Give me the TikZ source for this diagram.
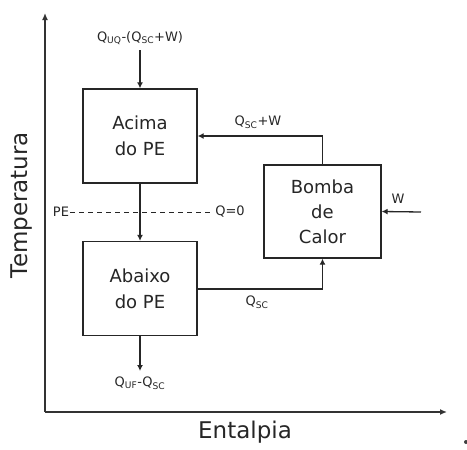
\documentclass[tikz,border=0pt]{standalone}
\usepackage{fontspec}
\setmainfont{DejaVu Sans}
\usetikzlibrary{arrows.meta}
\begin{document}
\begin{tikzpicture}[x=1pt,y=-1pt,
  ln/.style={line width=1.3pt,draw=black!85},
  axis/.style={line width=1.8pt,draw=black!80,-{Latex[length=7pt,width=6pt]}},
  flow/.style={ln,-{Latex[length=6pt,width=6pt]}},
  blk/.style={ln,fill=white,minimum width=114pt,minimum height=94pt,inner sep=0pt,align=center,font=\fontsize{18}{26}\selectfont,text=black!85},
  lbl/.style={font=\fontsize{13}{15}\selectfont,inner sep=1pt,text=black!85},
  big/.style={font=\fontsize{23}{27}\selectfont,text=black!85}]
\useasboundingbox (0,0) rectangle (467,450);
% axes
\coordinate (O) at (45,412);
\coordinate (Ytop) at (45,13);
\coordinate (Xend) at (447,412);
\draw[axis] (O) -- (Ytop);
\draw[axis] (O) -- (Xend);
\node[big,rotate=90] (temp) at (22,205) {Temperatura};
\node[big] (ent) at (245,432) {Entalpia};
% boxes
\node[blk] (acima) at (140,136) {Acima\\do PE};
\node[blk] (abaixo) at (140,288.5) {Abaixo\\do PE};
\node[blk,minimum width=117pt,minimum height=93pt,font=\fontsize{18}{25}\selectfont] (bomba) at (322.5,211.5) {Bomba\\de\\Calor};
% top input
\coordinate (tin) at (140,50);
\node[lbl] (lqin) at (140,38) {Q\textsubscript{UQ}-(Q\textsubscript{SC}+W)};
\draw[flow] (tin) -- (acima.north);
% between boxes
\draw[flow] (acima.south) -- (abaixo.north);
% bottom output
\coordinate (tout) at (140,371);
\draw[flow] (abaixo.south) -- (tout);
\node[lbl] (lqout) at (140,383) {Q\textsubscript{UF}-Q\textsubscript{SC}};
% heat pump to top box
\coordinate (c1) at (322.5,136);
\draw[flow] (bomba.north) -- (c1) -- (acima.east);
\node[lbl] (lqscw) at (258,122) {Q\textsubscript{SC}+W};
% bottom box to heat pump
\coordinate (c2) at (322.5,289);
\draw[flow] (197,289) -- (c2) -- (bomba.south);
\node[lbl] (lqsc) at (257,302) {Q\textsubscript{SC}};
% W input
\coordinate (win) at (421,212);
\draw[flow] (win) -- (bomba.east);
\node[lbl] (lw) at (398,199) {W};
% pinch line
\node[lbl] (pe) at (61,212) {PE};
\node[lbl] (q0) at (230,212) {Q=0};
\draw[line width=1pt,draw=black!85,dash pattern=on 5pt off 4pt] (pe.east) -- (q0.west);
% stray dot
\fill[black!75] (466,442) circle (2);
\end{tikzpicture}
\end{document}
